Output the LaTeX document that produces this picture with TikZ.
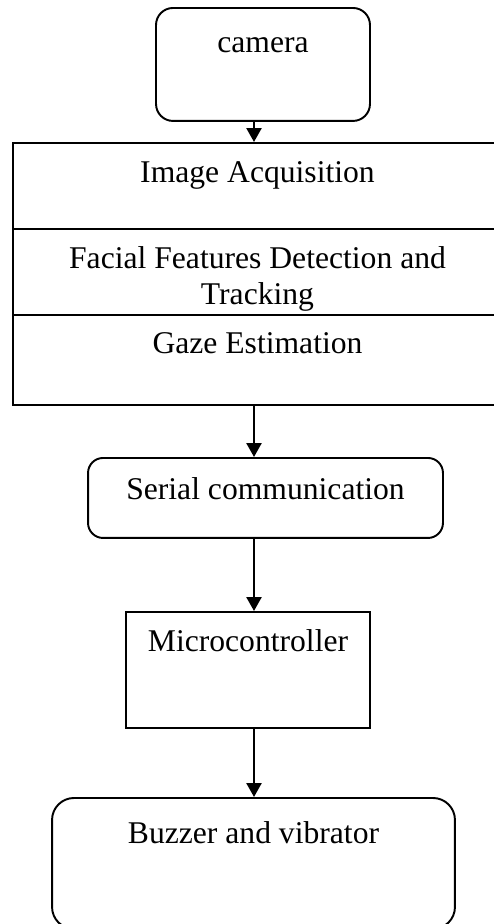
\documentclass[tikz,border=0pt]{standalone}
\usepackage{fontspec}
\setmainfont{Liberation Serif}
\usetikzlibrary{arrows.meta}
\tikzset{
  blockbox/.style={draw, line width=1.1pt, inner sep=0pt, anchor=north, align=center,
    font=\fontsize{18}{21}\selectfont},
  roundbox/.style={blockbox, rounded corners=#1},
  flowarrow/.style={line width=1.4pt, -{Triangle[length=0.28cm, width=0.3cm]}}
}

\begin{document}
\begin{tikzpicture}[x=0.02cm, y=-0.02cm]
\path[use as bounding box, clip] (0,0) rectangle (494,924);

\node[roundbox=0.34cm, minimum width=4.28cm, text height=0.9cm, text depth=1.36cm] (cam) at (263,7) {camera};

\node[blockbox, minimum width=9.78cm, text height=0.8cm, text depth=0.92cm] (acq) at (257.5,142) {Image Acquisition};
\node[blockbox, minimum width=9.78cm, text height=1.52cm, text depth=0.2cm] (det) at (257.5,228) {Facial Features Detection and\\Tracking};
\node[blockbox, minimum width=9.78cm, text height=0.78cm, text depth=1.02cm] (gaze) at (257.5,314) {Gaze Estimation};

\node[roundbox=0.3cm, minimum width=7.1cm, text height=0.84cm, text depth=0.76cm] (serial) at (265.5,457) {Serial communication};
\node[blockbox, minimum width=4.88cm, text height=0.8cm, text depth=1.52cm] (micro) at (248,611) {Microcontroller};
\node[roundbox=0.44cm, minimum width=8.06cm, text height=0.92cm, text depth=1.7cm] (buzz) at (253.5,797) {Buzzer and vibrator};

\coordinate (spine) at (254,0);
\draw[flowarrow] (cam.south -| spine) -- (acq.north -| spine);
\draw[flowarrow] ([yshift=1pt]gaze.south -| spine) -- (serial.north -| spine);
\draw[flowarrow] ([yshift=1pt]serial.south -| spine) -- (micro.north -| spine);
\draw[flowarrow] ([yshift=1pt]micro.south -| spine) -- (buzz.north -| spine);
\end{tikzpicture}
\end{document}
